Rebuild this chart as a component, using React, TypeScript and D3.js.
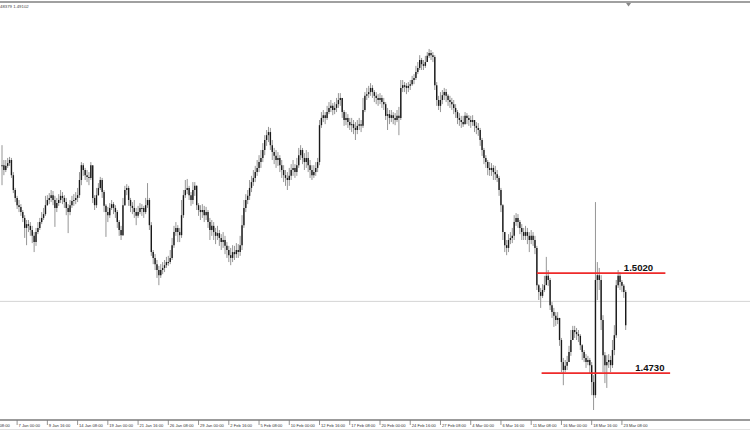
import React, { useEffect, useRef } from 'react';
import * as d3 from 'd3';

// H4 closes, highs and lows, oldest first
const closes = [
  1.5333, 1.5319, 1.5331, 1.5339, 1.5348, 1.5304, 1.5261, 1.5238, 1.5217, 1.5212,
  1.5197, 1.5180, 1.5151, 1.5162, 1.5157, 1.5145, 1.5128, 1.5110, 1.5139, 1.5151,
  1.5168, 1.5180, 1.5191, 1.5217, 1.5232, 1.5238, 1.5246, 1.5232, 1.5209, 1.5223,
  1.5232, 1.5244, 1.5238, 1.5226, 1.5209, 1.5197, 1.5217, 1.5229, 1.5232, 1.5238,
  1.5246, 1.5290, 1.5333, 1.5319, 1.5304, 1.5299, 1.5296, 1.5333, 1.5238, 1.5217,
  1.5246, 1.5267, 1.5290, 1.5255, 1.5215, 1.5197, 1.5188, 1.5209, 1.5220, 1.5209,
  1.5197, 1.5168, 1.5145, 1.5130, 1.5217, 1.5261, 1.5267, 1.5232, 1.5215, 1.5209,
  1.5197, 1.5186, 1.5197, 1.5209, 1.5209, 1.5197, 1.5217, 1.5232, 1.5159, 1.5081,
  1.5064, 1.5046, 1.5029, 1.5014, 1.5029, 1.5035, 1.5043, 1.5052, 1.5052, 1.5064,
  1.5101, 1.5139, 1.5151, 1.5139, 1.5130, 1.5188, 1.5246, 1.5261, 1.5267, 1.5246,
  1.5232, 1.5261, 1.5273, 1.5217, 1.5203, 1.5197, 1.5203, 1.5188, 1.5197, 1.5168,
  1.5145, 1.5157, 1.5139, 1.5128, 1.5136, 1.5122, 1.5110, 1.5116, 1.5099, 1.5087,
  1.5072, 1.5064, 1.5081, 1.5075, 1.5087, 1.5081, 1.5101, 1.5159, 1.5209, 1.5232,
  1.5244, 1.5267, 1.5284, 1.5296, 1.5313, 1.5325, 1.5342, 1.5354, 1.5377, 1.5406,
  1.5420, 1.5429, 1.5391, 1.5371, 1.5360, 1.5348, 1.5354, 1.5333, 1.5319, 1.5304,
  1.5296, 1.5290, 1.5302, 1.5319, 1.5325, 1.5313, 1.5333, 1.5362, 1.5377, 1.5354,
  1.5342, 1.5354, 1.5333, 1.5319, 1.5304, 1.5313, 1.5325, 1.5342, 1.5449, 1.5470,
  1.5478, 1.5470, 1.5487, 1.5499, 1.5505, 1.5493, 1.5499, 1.5510, 1.5522, 1.5528,
  1.5487, 1.5464, 1.5470, 1.5458, 1.5449, 1.5452, 1.5441, 1.5435, 1.5447, 1.5452,
  1.5447, 1.5493, 1.5534, 1.5539, 1.5545, 1.5557, 1.5545, 1.5534, 1.5528, 1.5522,
  1.5528, 1.5516, 1.5510, 1.5476, 1.5481, 1.5470, 1.5478, 1.5470, 1.5464, 1.5476,
  1.5470, 1.5557, 1.5565, 1.5563, 1.5557, 1.5563, 1.5568, 1.5580, 1.5586, 1.5603,
  1.5615, 1.5638, 1.5626, 1.5621, 1.5632, 1.5650, 1.5658, 1.5652, 1.5647, 1.5565,
  1.5522, 1.5505, 1.5522, 1.5536, 1.5545, 1.5534, 1.5522, 1.5516, 1.5510, 1.5499,
  1.5487, 1.5470, 1.5464, 1.5458, 1.5452, 1.5476, 1.5470, 1.5464, 1.5458, 1.5464,
  1.5447, 1.5441, 1.5435, 1.5406, 1.5377, 1.5354, 1.5342, 1.5325, 1.5319, 1.5325,
  1.5313, 1.5307, 1.5296, 1.5261, 1.5217, 1.5139, 1.5101, 1.5093, 1.5116, 1.5122,
  1.5128, 1.5168, 1.5180, 1.5168, 1.5151, 1.5139, 1.5128, 1.5139, 1.5128, 1.5116,
  1.5128, 1.5116, 1.5093, 1.4985, 1.4965, 1.4954, 1.4971, 1.4985, 1.5012, 1.5000,
  1.4927, 1.4907, 1.4896, 1.4884, 1.4890, 1.4826, 1.4762, 1.4739, 1.4751, 1.4762,
  1.4791, 1.4826, 1.4855, 1.4849, 1.4843, 1.4838, 1.4811, 1.4791, 1.4774, 1.4762,
  1.4768, 1.4753, 1.4704, 1.4666, 1.5000, 1.5014, 1.5000, 1.4884, 1.4782, 1.4753,
  1.4762, 1.4768, 1.4753, 1.4797, 1.4840, 1.4985, 1.5012, 1.4994, 1.4983, 1.4965, 1.4869,
];

const highs = [
  1.5391, 1.5348, 1.5348, 1.5354, 1.5357, 1.5354, 1.5313, 1.5267, 1.5244, 1.5232,
  1.5220, 1.5203, 1.5188, 1.5174, 1.5174, 1.5168, 1.5157, 1.5139, 1.5151, 1.5168,
  1.5180, 1.5197, 1.5209, 1.5244, 1.5246, 1.5252, 1.5261, 1.5258, 1.5244, 1.5238,
  1.5249, 1.5261, 1.5255, 1.5246, 1.5238, 1.5220, 1.5232, 1.5244, 1.5249, 1.5255,
  1.5267, 1.5313, 1.5342, 1.5339, 1.5325, 1.5319, 1.5313, 1.5342, 1.5331, 1.5246,
  1.5267, 1.5281, 1.5299, 1.5296, 1.5261, 1.5220, 1.5212, 1.5223, 1.5232, 1.5226,
  1.5217, 1.5203, 1.5174, 1.5157, 1.5238, 1.5273, 1.5278, 1.5273, 1.5238, 1.5226,
  1.5232, 1.5209, 1.5215, 1.5223, 1.5220, 1.5215, 1.5238, 1.5281, 1.5238, 1.5168,
  1.5087, 1.5075, 1.5058, 1.5041, 1.5046, 1.5052, 1.5058, 1.5067, 1.5070, 1.5087,
  1.5122, 1.5157, 1.5168, 1.5159, 1.5151, 1.5232, 1.5261, 1.5290, 1.5293, 1.5273,
  1.5255, 1.5284, 1.5284, 1.5275, 1.5223, 1.5217, 1.5220, 1.5215, 1.5212, 1.5203,
  1.5180, 1.5174, 1.5168, 1.5151, 1.5157, 1.5145, 1.5133, 1.5139, 1.5128, 1.5110,
  1.5099, 1.5093, 1.5101, 1.5099, 1.5107, 1.5104, 1.5128, 1.5188, 1.5232, 1.5249,
  1.5261, 1.5290, 1.5302, 1.5319, 1.5331, 1.5348, 1.5362, 1.5377, 1.5397, 1.5420,
  1.5435, 1.5444, 1.5441, 1.5406, 1.5383, 1.5377, 1.5371, 1.5362, 1.5348, 1.5333,
  1.5319, 1.5313, 1.5325, 1.5336, 1.5348, 1.5336, 1.5354, 1.5383, 1.5391, 1.5383,
  1.5368, 1.5377, 1.5371, 1.5348, 1.5333, 1.5333, 1.5342, 1.5354, 1.5464, 1.5487,
  1.5493, 1.5487, 1.5505, 1.5516, 1.5522, 1.5513, 1.5516, 1.5528, 1.5542, 1.5542,
  1.5528, 1.5493, 1.5487, 1.5481, 1.5470, 1.5470, 1.5464, 1.5458, 1.5464, 1.5470,
  1.5464, 1.5528, 1.5545, 1.5557, 1.5563, 1.5571, 1.5565, 1.5551, 1.5545, 1.5539,
  1.5542, 1.5536, 1.5528, 1.5516, 1.5499, 1.5493, 1.5493, 1.5487, 1.5484, 1.5493,
  1.5502, 1.5580, 1.5580, 1.5574, 1.5571, 1.5574, 1.5580, 1.5592, 1.5597, 1.5621,
  1.5632, 1.5652, 1.5644, 1.5638, 1.5650, 1.5661, 1.5670, 1.5667, 1.5661, 1.5652,
  1.5574, 1.5534, 1.5545, 1.5551, 1.5557, 1.5554, 1.5539, 1.5534, 1.5528, 1.5522,
  1.5510, 1.5493, 1.5484, 1.5476, 1.5476, 1.5487, 1.5484, 1.5478, 1.5476, 1.5478,
  1.5464, 1.5458, 1.5455, 1.5441, 1.5412, 1.5383, 1.5362, 1.5348, 1.5342, 1.5339,
  1.5333, 1.5331, 1.5319, 1.5302, 1.5267, 1.5220, 1.5139, 1.5116, 1.5133, 1.5139,
  1.5151, 1.5188, 1.5194, 1.5191, 1.5174, 1.5162, 1.5151, 1.5157, 1.5151, 1.5139,
  1.5145, 1.5139, 1.5128, 1.5099, 1.4988, 1.4977, 1.4988, 1.5012, 1.5067, 1.5029,
  1.5006, 1.4936, 1.4919, 1.4907, 1.4907, 1.4890, 1.4832, 1.4774, 1.4768, 1.4780,
  1.4809, 1.4855, 1.4867, 1.4867, 1.4861, 1.4855, 1.4843, 1.4814, 1.4797, 1.4785,
  1.4780, 1.4774, 1.4762, 1.4724, 1.5226, 1.5052, 1.5035, 1.5014, 1.4898, 1.4791,
  1.4782, 1.4785, 1.4780, 1.4826, 1.4869, 1.5000, 1.5029, 1.5023, 1.5000, 1.4988, 1.4971,
];

const lows = [
  1.5275, 1.5304, 1.5313, 1.5325, 1.5331, 1.5296, 1.5252, 1.5226, 1.5206, 1.5197,
  1.5186, 1.5168, 1.5122, 1.5101, 1.5139, 1.5128, 1.5107, 1.5081, 1.5099, 1.5133,
  1.5145, 1.5162, 1.5174, 1.5186, 1.5215, 1.5220, 1.5226, 1.5217, 1.5154, 1.5197,
  1.5215, 1.5223, 1.5220, 1.5209, 1.5188, 1.5136, 1.5188, 1.5209, 1.5215, 1.5220,
  1.5226, 1.5238, 1.5275, 1.5302, 1.5290, 1.5284, 1.5275, 1.5290, 1.5223, 1.5203,
  1.5209, 1.5244, 1.5261, 1.5238, 1.5197, 1.5125, 1.5168, 1.5180, 1.5203, 1.5191,
  1.5180, 1.5151, 1.5128, 1.5116, 1.5128, 1.5215, 1.5246, 1.5215, 1.5197, 1.5191,
  1.5180, 1.5159, 1.5180, 1.5191, 1.5186, 1.5180, 1.5191, 1.5209, 1.5145, 1.5070,
  1.5046, 1.5029, 1.5006, 1.4985, 1.5006, 1.5017, 1.5023, 1.5035, 1.5041, 1.5046,
  1.5058, 1.5093, 1.5128, 1.5110, 1.5110, 1.5122, 1.5180, 1.5238, 1.5249, 1.5232,
  1.5215, 1.5220, 1.5244, 1.5203, 1.5186, 1.5174, 1.5180, 1.5168, 1.5174, 1.5151,
  1.5116, 1.5128, 1.5116, 1.5104, 1.5116, 1.5099, 1.5087, 1.5093, 1.5075, 1.5064,
  1.5052, 1.5043, 1.5052, 1.5058, 1.5064, 1.5064, 1.5070, 1.5087, 1.5151, 1.5197,
  1.5220, 1.5232, 1.5255, 1.5273, 1.5284, 1.5302, 1.5313, 1.5325, 1.5342, 1.5362,
  1.5389, 1.5400, 1.5377, 1.5348, 1.5336, 1.5325, 1.5331, 1.5313, 1.5296, 1.5284,
  1.5273, 1.5261, 1.5273, 1.5290, 1.5302, 1.5296, 1.5302, 1.5325, 1.5348, 1.5336,
  1.5319, 1.5325, 1.5313, 1.5296, 1.5290, 1.5296, 1.5302, 1.5313, 1.5333, 1.5441,
  1.5458, 1.5452, 1.5464, 1.5481, 1.5487, 1.5478, 1.5481, 1.5487, 1.5499, 1.5505,
  1.5470, 1.5447, 1.5449, 1.5441, 1.5435, 1.5429, 1.5423, 1.5406, 1.5423, 1.5435,
  1.5429, 1.5441, 1.5487, 1.5522, 1.5528, 1.5534, 1.5528, 1.5516, 1.5510, 1.5505,
  1.5510, 1.5499, 1.5493, 1.5464, 1.5435, 1.5452, 1.5458, 1.5452, 1.5449, 1.5458,
  1.5420, 1.5464, 1.5545, 1.5545, 1.5539, 1.5545, 1.5551, 1.5563, 1.5568, 1.5580,
  1.5597, 1.5609, 1.5609, 1.5609, 1.5615, 1.5632, 1.5644, 1.5638, 1.5632, 1.5551,
  1.5505, 1.5493, 1.5487, 1.5510, 1.5522, 1.5516, 1.5505, 1.5499, 1.5493, 1.5481,
  1.5470, 1.5452, 1.5447, 1.5441, 1.5444, 1.5452, 1.5452, 1.5447, 1.5441, 1.5447,
  1.5429, 1.5423, 1.5418, 1.5389, 1.5360, 1.5336, 1.5325, 1.5304, 1.5302, 1.5302,
  1.5290, 1.5290, 1.5284, 1.5244, 1.5197, 1.5116, 1.5081, 1.5072, 1.5081, 1.5104,
  1.5107, 1.5116, 1.5157, 1.5151, 1.5133, 1.5116, 1.5116, 1.5116, 1.5104, 1.5081,
  1.5104, 1.5099, 1.5075, 1.4971, 1.4942, 1.4919, 1.4948, 1.4965, 1.4994, 1.4983,
  1.4913, 1.4890, 1.4864, 1.4867, 1.4872, 1.4809, 1.4733, 1.4695, 1.4733, 1.4739,
  1.4762, 1.4780, 1.4826, 1.4832, 1.4826, 1.4820, 1.4797, 1.4768, 1.4762, 1.4745,
  1.4753, 1.4730, 1.4666, 1.4623, 1.4658, 1.4942, 1.4971, 1.4855, 1.4733, 1.4701,
  1.4687, 1.4745, 1.4733, 1.4745, 1.4782, 1.4832, 1.4977, 1.4971, 1.4965, 1.4948, 1.4855,
];

// time axis labels, one every 16 bars, the first one sits left of the first bar
const timeLabels = [
  '2 Jan 08:00', '7 Jan 00:00', '9 Jan 16:00', '14 Jan 08:00', '19 Jan 00:00', '21 Jan 16:00',
  '26 Jan 08:00', '29 Jan 00:00', '2 Feb 16:00', '5 Feb 08:00', '10 Feb 00:00', '12 Feb 16:00',
  '17 Feb 08:00', '20 Feb 00:00', '24 Feb 16:00', '27 Feb 08:00', '4 Mar 00:00', '6 Mar 16:00',
  '11 Mar 08:00', '16 Mar 00:00', '18 Mar 16:00', '23 Mar 08:00',
];
const firstLabelBar = -8;
const labelStep = 16;

// horizontal levels drawn on the chart (bar index range they span)
const levelPrices = [1.5020, 1.4730];
const levelLabels = ['1.5020', '1.4730'];
const levelFrom = [283, 285.5];
const levelTo = [351, 353.5];
const levelLabelBar = [329, 335];

const bidPrice = 1.4938;
const headerText = '48379 1.49102';

export default function App() {
  const ref = useRef<SVGSVGElement>(null);

  useEffect(() => {
    const width = 750;
    const height = 430;
    const axisY = 420;

    const svg = d3.select(ref.current);
    svg.selectAll('*').remove();

    const x = d3.scaleLinear().domain([0, 330]).range([2, 625.7]);
    const y = d3.scaleLinear().domain([1.4594, 1.5812]).range([axisY, 0]);

    const bars = closes.map((c, i) => ({
      i,
      open: i > 0 ? closes[i - 1] : c,
      close: c,
      high: highs[i],
      low: lows[i],
    }));

    svg.append('rect')
      .attr('width', width)
      .attr('height', height)
      .attr('fill', '#ffffff');

    // header line + text
    svg.append('line')
      .attr('x1', 0).attr('x2', width)
      .attr('y1', 2).attr('y2', 2)
      .attr('stroke', '#a0a0a0')
      .attr('stroke-width', 2);

    svg.append('text')
      .attr('x', 0)
      .attr('y', 7.5)
      .style('font', '4.3px "Liberation Sans", Arial, sans-serif')
      .attr('fill', '#444')
      .text(headerText);

    // chart shift marker
    const shiftX = x(331.5);
    svg.append('path')
      .attr('d', `M${shiftX - 2.5},3 L${shiftX + 2.5},3 L${shiftX},6.5 Z`)
      .attr('fill', '#888');

    // bid line
    svg.append('line')
      .attr('x1', 0).attr('x2', width)
      .attr('y1', y(bidPrice)).attr('y2', y(bidPrice))
      .attr('stroke', '#d4d4d4')
      .attr('stroke-width', 1);

    // bars
    const g = svg.append('g');
    g.selectAll('line.wick')
      .data(bars)
      .join('line')
      .attr('class', 'wick')
      .attr('x1', (d) => x(d.i)).attr('x2', (d) => x(d.i))
      .attr('y1', (d) => y(d.high)).attr('y2', (d) => y(d.low))
      .attr('stroke', '#8a8a8a')
      .attr('stroke-width', 0.9);

    g.selectAll('line.body')
      .data(bars)
      .join('line')
      .attr('class', 'body')
      .attr('x1', (d) => x(d.i)).attr('x2', (d) => x(d.i))
      .attr('y1', (d) => y(d.open))
      .attr('y2', (d) => (Math.abs(y(d.open) - y(d.close)) < 1 ? y(d.close) + 1 : y(d.close)))
      .attr('stroke', '#1a1a1a')
      .attr('stroke-width', 1.4);

    // levels
    const levels = levelPrices.map((p, k) => ({
      price: p, label: levelLabels[k], from: levelFrom[k], to: levelTo[k], at: levelLabelBar[k],
    }));

    svg.append('g')
      .selectAll('line')
      .data(levels)
      .join('line')
      .attr('x1', (d) => x(d.from)).attr('x2', (d) => x(d.to))
      .attr('y1', (d) => y(d.price)).attr('y2', (d) => y(d.price))
      .attr('stroke', '#ee2a2a')
      .attr('stroke-width', 1.8);

    svg.append('g')
      .selectAll('text')
      .data(levels)
      .join('text')
      .attr('x', (d) => x(d.at))
      .attr('y', (d) => y(d.price) - 2.2)
      .style('font', 'bold 9.6px "Liberation Sans", Arial, sans-serif')
      .attr('fill', '#111')
      .text((d) => d.label);

    // time axis
    svg.append('line')
      .attr('x1', 0).attr('x2', width)
      .attr('y1', axisY).attr('y2', axisY)
      .attr('stroke', '#7a7a7a')
      .attr('stroke-width', 1.5);

    svg.append('line')
      .attr('x1', 0).attr('x2', width)
      .attr('y1', 429.5).attr('y2', 429.5)
      .attr('stroke', '#e2e2e2')
      .attr('stroke-width', 1);

    const ticks = timeLabels.map((t, k) => ({ t, bar: firstLabelBar + k * labelStep }));

    const axis = svg.append('g');
    axis.selectAll('line')
      .data(ticks)
      .join('line')
      .attr('x1', (d) => x(d.bar)).attr('x2', (d) => x(d.bar))
      .attr('y1', axisY).attr('y2', axisY + 5)
      .attr('stroke', '#7a7a7a')
      .attr('stroke-width', 0.8);

    axis.selectAll('text')
      .data(ticks)
      .join('text')
      .attr('x', (d) => x(d.bar) + 1.5)
      .attr('y', 426.8)
      .style('font', '4.1px "Liberation Sans", Arial, sans-serif')
      .attr('fill', '#333')
      .text((d) => d.t);
  }, []);

  return (
    <svg
      ref={ref}
      width={750}
      height={430}
      style={{ position: 'absolute', left: 0, top: 0, display: 'block' }}
    />
  );
}
